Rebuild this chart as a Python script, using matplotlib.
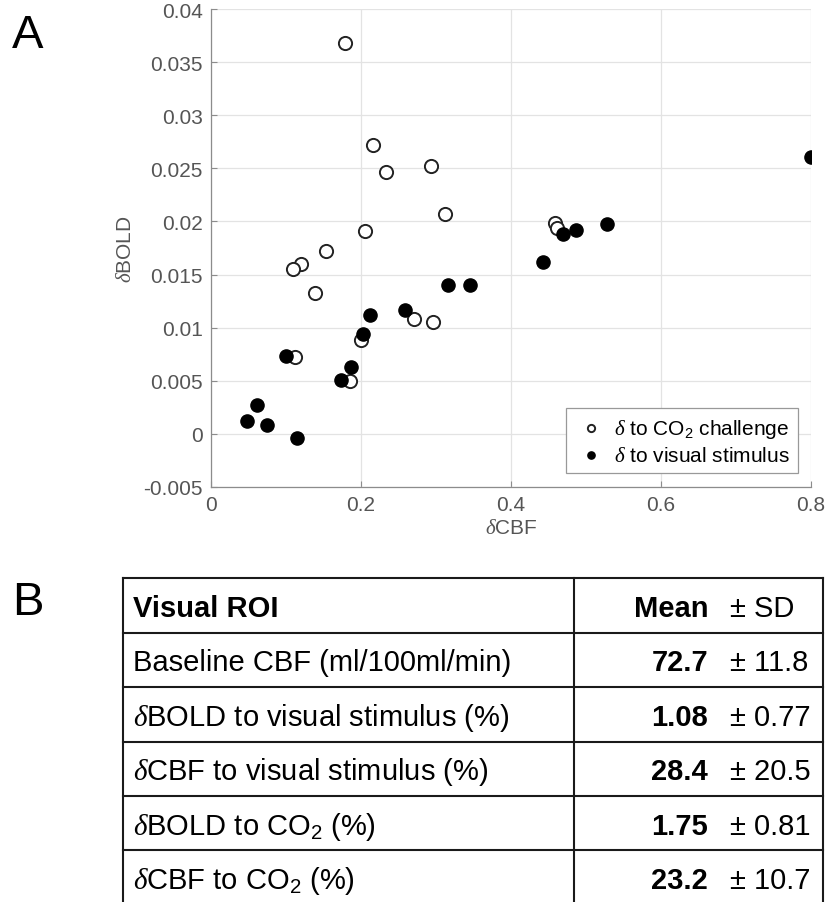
import matplotlib
matplotlib.use("Agg")
import matplotlib.pyplot as plt
from matplotlib.ticker import FuncFormatter

plt.rcParams['font.family'] = ['Liberation Sans', 'DejaVu Sans']
plt.rcParams['mathtext.fontset'] = 'custom'
plt.rcParams['mathtext.rm'] = 'Liberation Sans'
plt.rcParams['mathtext.it'] = 'Liberation Serif:italic'
plt.rcParams['mathtext.bf'] = 'Liberation Sans:bold'

# panel A data: response to CO2 challenge (open) and visual stimulus (filled)
co2_cbf = [0.179, 0.216, 0.233, 0.293, 0.312, 0.205, 0.153, 0.120, 0.109,
           0.138, 0.270, 0.296, 0.200, 0.112, 0.185, 0.459, 0.461]
co2_bold = [0.0368, 0.0272, 0.0247, 0.0252, 0.0207, 0.0191, 0.0172, 0.0160,
            0.0155, 0.0133, 0.0108, 0.0105, 0.0088, 0.0072, 0.0050, 0.0199, 0.0194]
vis_cbf = [0.316, 0.345, 0.212, 0.258, 0.202, 0.100, 0.187, 0.173, 0.061,
           0.048, 0.075, 0.115, 0.469, 0.486, 0.528, 0.443, 0.800]
vis_bold = [0.0140, 0.0140, 0.0112, 0.0117, 0.0094, 0.0073, 0.0063, 0.0051,
            0.0027, 0.0012, 0.0008, -0.0004, 0.0188, 0.0192, 0.0198, 0.0162, 0.0261]

# panel B table
row_labels = ['Baseline CBF (ml/100ml/min)',
              r'$\delta$BOLD to visual stimulus (%)',
              r'$\delta$CBF to visual stimulus (%)',
              r'$\delta$BOLD to CO$_2$ (%)',
              r'$\delta$CBF to CO$_2$ (%)']
means = ['72.7', '1.08', '28.4', '1.75', '23.2']
sds = ['11.8', '0.77', '20.5', '0.81', '10.7']

W, H = 830, 903
fig = plt.figure(figsize=(W / 100, H / 100), dpi=100)

# background axes in pixel coords for panel letters and the table
tax = fig.add_axes([0, 0, 1, 1])
tax.set_xlim(0, W)
tax.set_ylim(H, 0)
tax.axis('off')

ax = fig.add_axes([211 / W, 1 - 488 / H, 600 / W, 478 / H])
ax.scatter(co2_cbf, co2_bold, s=90, facecolors='white', edgecolors='#222222',
           linewidths=1.4, label=r'$\delta$ to CO$_2$ challenge', zorder=3)
ax.scatter(vis_cbf, vis_bold, s=90, color='black',
           label=r'$\delta$ to visual stimulus', zorder=4)
ax.set_xlim(0, 0.8)
ax.set_ylim(-0.005, 0.04)
ax.set_xticks([0, 0.2, 0.4, 0.6, 0.8])
ax.set_yticks([-0.005, 0, 0.005, 0.01, 0.015, 0.02, 0.025, 0.03, 0.035, 0.04])
fmt = FuncFormatter(lambda v, p: '%g' % round(v, 4))
ax.xaxis.set_major_formatter(fmt)
ax.yaxis.set_major_formatter(fmt)
ax.grid(True, color='#e3e3e3', lw=0.9)
ax.set_axisbelow(True)
for s in ['top', 'right']:
    ax.spines[s].set_visible(False)
for s in ['left', 'bottom']:
    ax.spines[s].set_color('#8c8c8c')
    ax.spines[s].set_linewidth(0.9)
ax.tick_params(direction='in', length=4, width=0.8, color='#8c8c8c',
               labelcolor='#555555', labelsize=15, pad=6)
ax.set_xlabel(r'$\delta$CBF', fontsize=15, color='#555555', labelpad=3)
ax.set_ylabel(r'$\delta$BOLD', fontsize=15, color='#555555', labelpad=6)
leg = ax.legend(loc='lower right', bbox_to_anchor=(0.978, 0.029), borderaxespad=0,
                fontsize=15, markerscale=0.55, fancybox=False, framealpha=1,
                edgecolor='#999999', labelspacing=0.3, borderpad=0.4,
                handlelength=1.6, handletextpad=0.3)
leg.get_frame().set_linewidth(0.9)

tax.text(12, 48, 'A', fontsize=34, va='baseline', ha='left')
tax.text(12, 615, 'B', fontsize=34, va='baseline', ha='left')

# table grid
top, rh = 579, 54.5
x0, xs, x1 = 122.7, 574.3, 823.3
nrows = len(row_labels) + 1
for i in range(nrows + 1):
    tax.plot([x0, x1], [top + i * rh] * 2, color='#1a1a1a', lw=1.5,
             solid_capstyle='projecting')
for x in [x0, xs, x1]:
    tax.plot([x, x], [top, top + nrows * rh], color='#1a1a1a', lw=1.5)

fs = 21
tax.text(133, top + 38, 'Visual ROI', fontsize=fs, fontweight='bold', va='baseline')
tax.text(708, top + 38, 'Mean', fontsize=fs, fontweight='bold', va='baseline', ha='right')
tax.text(730, top + 38, '\u00b1 SD', fontsize=fs, va='baseline')
for i, (lab, m, sd) in enumerate(zip(row_labels, means, sds)):
    yb = top + (i + 1) * rh + 38
    tax.text(133, yb, lab, fontsize=fs, va='baseline')
    tax.text(708, yb, m, fontsize=fs, fontweight='bold', va='baseline', ha='right')
    tax.text(730, yb, '\u00b1 ' + sd, fontsize=fs, va='baseline')

fig.savefig('out.png', dpi=100, facecolor='w')
